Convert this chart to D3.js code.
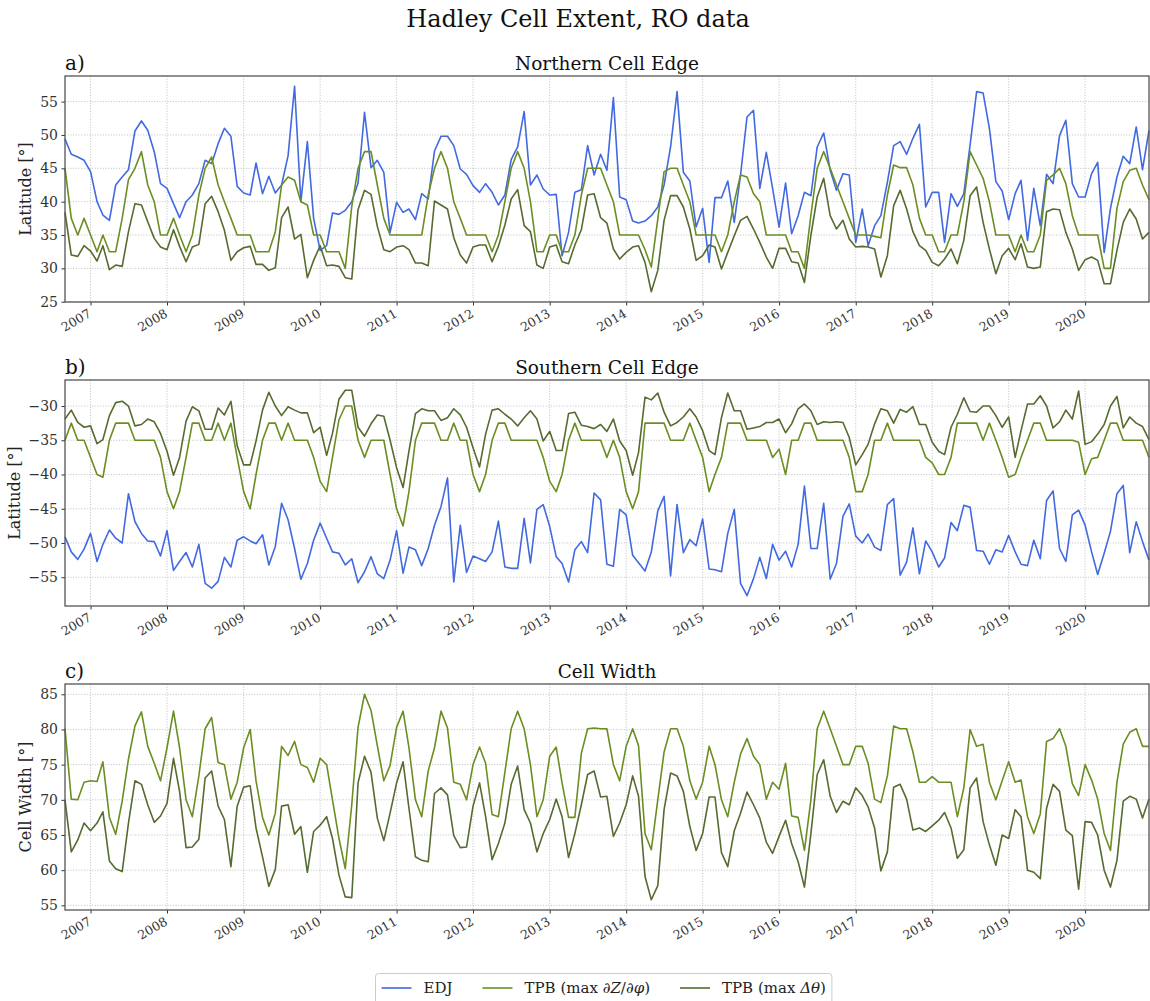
<!DOCTYPE html>
<html>
<head>
<meta charset="utf-8">
<script src="https://cdn.jsdelivr.net/npm/d3@7"></script>
<style>
  html, body { margin: 0; padding: 0; background: #fff; }
  svg { display: block; font-family: "DejaVu Serif", serif; }
</style>
</head>
<body>
<svg id="chart" width="1150" height="1001"></svg>
<script>
// Monthly series, Sep 2006 .. Nov 2020
const startMonth = new Date(2006, 8, 1);
const endMonth = new Date(2020, 10, 1);

// Northern cell edge [deg]
const edjNorth = [49.4,47.1,46.7,46.2,44.5,40.0,38.0,37.2,42.5,43.7,44.8,50.6,52.1,50.7,47.5,42.7,42.0,39.7,37.6,40.0,41.0,42.7,46.2,45.7,48.7,51.0,49.8,42.3,41.3,41.0,45.8,41.2,43.8,41.3,42.5,46.9,57.3,40.0,49.0,37.5,32.7,33.4,38.3,38.1,
  38.7,40.0,42.8,53.4,45.1,46.2,44.4,35.4,39.9,38.4,38.9,37.3,41.2,40.4,47.6,49.8,49.8,48.4,44.9,44.1,42.4,41.4,42.7,41.4,39.5,41.0,46.3,48.2,53.5,42.5,44.0,41.9,41.0,41.1,31.9,35.4,41.4,41.8,48.4,44.0,47.1,44.7,
  55.6,40.7,40.3,37.1,36.8,37.1,37.9,39.2,42.5,48.2,56.5,44.4,43.1,36.2,39.0,30.9,40.6,40.6,43.1,36.9,44.0,52.7,53.7,42.0,47.4,42.0,36.2,42.8,35.2,37.9,41.4,40.9,48.2,50.3,44.7,41.7,44.2,44.0,33.9,38.9,33.4,36.4,
  37.9,42.9,48.4,49.0,47.1,49.5,51.6,39.2,41.4,41.4,33.9,41.2,39.3,41.2,48.5,56.5,56.3,51.0,43.0,41.6,37.3,41.2,43.2,34.2,42.0,36.4,44.1,42.7,49.9,52.2,42.7,40.7,40.7,44.2,45.9,32.4,39.0,43.7,46.8,45.7,51.2,44.8,50.7];
const tpbZNorth = [45,37.5,35,37.5,35,32.5,35,32.5,32.5,37.5,43.3,45,47.5,42.5,40,35,35,37.5,35,32.5,35,41,45,46.7,42.5,40,37.5,35,35,35,32.5,32.5,32.5,35.5,42.5,43.7,43.2,40,39.5,35,35,32.5,32.5,32.5,
  30,39.3,45,47.5,47.5,42.5,37.5,35,35,35,35,35,35,41,45,47.5,45,40,37.5,35,35,35,35,32.5,35,40,45,47.5,45,40,32.5,32.5,35,35,32.5,32.5,35,41,45,45,45,42.5,
  40,35,35,35,35,32.8,30.2,37.4,44.5,45,45,42.5,40,35,35,35,35,32.5,35,40,44,43.7,41.2,40,35,35,35,35,32.5,32.5,30,38,45,47.5,45,42.5,40,37.5,35,35,35,34.8,
  34.6,41,45.5,45.1,45.1,42.5,37.5,35,35,32.5,32.5,35,35,40,47.5,45.5,43.5,40,35,35,35,32.5,35,32.5,32.5,35,43.2,44,45,42.7,37.9,35,35,35,35,30,30,39,43,44.7,45,42.5,40.3];
const tpbTNorth = [38.4,32,31.8,33.4,32.6,31.1,33.4,29.8,30.5,30.3,35.5,39.7,39.5,37,34.5,33.2,32.8,35.8,33.3,31,33.2,33.6,39.7,40.8,38.5,35.7,31.2,32.5,33.1,33.3,30.6,30.6,29.7,30.1,37.6,39.2,34.4,35.1,28.6,31.2,33.4,30.4,30.5,30.3,
  28.6,28.4,38.8,41.7,41.1,36.3,32.8,32.5,33.2,33.4,32.8,30.8,30.8,30.4,40.1,39.5,38.9,34.6,32,30.8,33.2,33.5,33.5,31,33.3,36.5,40.4,41.8,36.4,35.5,30.5,30,33.2,33.5,31,30.7,33.5,35.8,41,41.2,37.6,36.8,
  32.9,31.4,32.4,33.2,33.4,30.9,26.5,29.7,37.2,40.9,40.9,39.2,35.9,31.2,31.9,33.5,33.2,29.9,32.4,34.9,37.2,37.8,35.9,33.9,31.7,30,33,33,31,30.8,27.9,35,40.7,43.5,37.9,35.9,37.2,34.4,33.2,33.3,33.2,32.9,
  28.7,31.9,39.4,41.7,38.9,35.5,33.4,32.7,30.9,30.4,31.4,32.9,30.7,34.2,40.9,42.2,36.9,32.9,29.2,31.9,33,31.3,33.7,30.2,30,30.2,38.5,38.9,38.8,35.4,32.9,29.7,31.3,31.7,31.2,27.7,27.7,32.7,36.9,38.9,37.4,34.4,35.4];

// Southern cell edge [deg]
const edjSouth = [-49.1,-51.3,-52.4,-50.9,-48.6,-52.7,-50.2,-48.1,-49.3,-50.0,-42.8,-46.9,-48.6,-49.7,-49.8,-51.9,-48.2,-54.0,-52.7,-51.4,-53.5,-50.2,-55.9,-56.6,-55.6,-52.1,-53.5,-49.6,-49.1,-49.7,-50.1,-48.8,-53.2,-50.5,-44.2,-46.6,-50.8,-55.3,-53.0,-49.6,-47.1,-49.3,-51.3,-51.5,
  -53.2,-52.3,-55.8,-54.2,-52.0,-54.5,-55.2,-52.5,-48.2,-54.4,-50.6,-51.0,-53.3,-50.8,-47.4,-44.7,-40.5,-55.7,-47.4,-54.3,-51.9,-52.3,-52.7,-51.3,-46.8,-53.5,-53.7,-53.7,-46.4,-52.9,-45.1,-44.4,-47.6,-52.0,-53.0,-55.7,-51.0,-49.8,-51.4,-42.7,-43.7,-53.1,
  -53.4,-45.1,-45.9,-51.8,-52.9,-54.1,-51.3,-45.3,-43.2,-54.8,-44.4,-51.4,-49.5,-50.4,-46.5,-53.8,-53.9,-54.2,-48.6,-45.1,-55.9,-57.7,-55.2,-52.1,-55.2,-50.2,-52.5,-51.2,-53.5,-50.2,-41.7,-50.8,-50.8,-44.2,-55.3,-53.0,-46.1,-44.3,-49.0,-50.0,-48.7,-50.6,
  -51.1,-44.4,-43.5,-54.7,-52.8,-47.8,-54.5,-49.7,-51.3,-53.5,-52.2,-47.0,-48.2,-44.5,-44.8,-51.1,-51.2,-53.1,-51.0,-51.3,-48.9,-51.3,-53.1,-53.3,-49.6,-52.3,-43.8,-42.4,-50.8,-52.7,-45.9,-45.2,-47.4,-51.3,-54.6,-51.5,-48.3,-42.8,-41.6,-51.4,-46.9,-49.8,-52.5];
const tpbZSouth = [-35,-32.5,-35,-35,-37.5,-40,-40.4,-35,-32.5,-32.5,-32.5,-35,-35,-35,-35,-37.5,-42.5,-45,-42.5,-37.5,-32.5,-32.5,-35,-35,-32.5,-35,-32.5,-37.5,-42.5,-45,-40,-35,-32.5,-32.5,-35,-32.5,-35,-35,-35,-37.5,-41,-42.5,-37.5,-32,
  -30,-30,-35,-37.5,-35,-35,-35,-40,-45,-47.5,-42.5,-35,-32.5,-32.5,-32.5,-35,-35,-32.5,-35,-35,-40,-42.5,-40,-35,-32.5,-32.5,-35,-35,-35,-35,-35,-37.5,-41,-42.5,-40,-35,-32.5,-35,-35,-35,-35,-37.5,
  -35,-37.5,-42.5,-45,-42.5,-32.5,-32.5,-32.5,-32.5,-35,-35,-35,-32.5,-35,-37.5,-42.5,-40,-37.5,-32.5,-32.5,-32.5,-35,-35,-35,-35,-37.5,-36.3,-40,-35,-35,-32.5,-32.5,-35,-35,-35,-35,-35,-37.5,-42.5,-42.5,-40,-35,
  -35,-32.5,-35,-35,-35,-35,-35,-37.5,-38.3,-40,-40,-37.5,-32.5,-32.5,-32.5,-32.5,-35,-32.5,-35,-37.5,-40.4,-40,-37.5,-35,-32.5,-32.5,-35,-35,-35,-35,-35,-35.3,-40,-37.7,-37.5,-35,-32.5,-32.5,-35,-35,-35,-35,-37.5];
const tpbTSouth = [-31.9,-30.6,-32.4,-33.1,-32.9,-35.5,-34.9,-31.4,-29.5,-29.3,-30.0,-32.9,-32.7,-31.9,-32.3,-34.0,-36.6,-40.1,-37.5,-32.2,-30.1,-30.7,-33.4,-33.4,-30.3,-31.3,-29.3,-35.8,-38.6,-38.6,-35.1,-30.6,-28.0,-30.0,-31.4,-30.1,-30.6,-31.0,-31.0,-33.9,-33.1,-37.2,-34.0,-29.0,
  -27.7,-27.7,-33.1,-34.4,-32.6,-31.3,-31.5,-35.0,-39.0,-41.9,-36.6,-31.1,-30.4,-30.7,-30.7,-32.1,-31.7,-30.4,-31.3,-33.1,-36.1,-38.9,-34.1,-30.6,-30.4,-31.2,-31.9,-32.9,-31.7,-30.7,-31.9,-35.1,-33.7,-36.5,-36.5,-31.1,-30.9,-32.8,-33.0,-33.3,-32.7,-33.7,
  -31.9,-35.1,-36.5,-40.1,-36.8,-28.7,-29.1,-28.1,-30.9,-32.9,-32.4,-31.6,-30.4,-31.6,-33.6,-36.5,-37.1,-31.7,-28.1,-30.7,-30.7,-33.4,-33.2,-33.0,-32.4,-32.4,-31.9,-33.9,-32.6,-30.4,-29.7,-30.7,-32.7,-32.3,-32.4,-32.3,-32.4,-34.6,-38.6,-37.1,-35.6,-32.6,
  -30.4,-30.7,-32.5,-30.5,-30.9,-30.1,-32.7,-32.7,-35.3,-36.6,-37.1,-33.1,-31.2,-28.8,-30.8,-30.9,-30.0,-30.0,-31.4,-33.1,-31.6,-37.5,-33.6,-29.7,-29.7,-28.5,-30.0,-33.2,-32.3,-30.6,-31.9,-27.8,-35.6,-35.2,-34.1,-32.7,-30.0,-28.6,-33.2,-31.6,-32.5,-33.0,-34.9];

// Cell width [deg]
const widthZ = [80.1,70.1,70,72.5,72.7,72.6,75.4,67.5,65.1,69.8,75.8,80.5,82.5,77.6,75.2,72.7,77.4,82.6,77.4,70,67.6,73.4,80.1,81.7,75.3,75,70.1,72.5,77.4,80,72.7,67.5,65,68.1,77.6,76.3,78.3,75,74.6,72.5,75.9,75,70,64.5,
  60.2,69.3,80.3,85,82.7,77.7,72.7,74.9,80.3,82.6,77.4,70,67.6,74.1,77.4,82.6,80.2,72.5,72.2,70,75,77.5,75.2,67.9,67.6,73.9,80.1,82.6,80.1,75,67.6,70,76.2,77.5,72.4,67.5,67.5,76.6,80.1,80.2,80.1,80.1,
  75,72.7,77.6,80.1,77.7,65.2,62.9,70,76.8,80.1,80.1,77.6,72.7,70.1,72.5,77.6,75,70,67.6,72.5,76.5,78.7,76.2,75,70.1,72.5,71.5,75.2,67.7,67.5,62.8,70,80.1,82.6,80.1,77.6,75,75,77.6,77.6,75.2,70.1,
  69.6,73.4,80.5,80.1,80.1,76.8,72.5,72.5,73.3,72.5,72.5,72.5,67.6,71.7,80,77.6,77.9,72.5,70,72.7,75.4,72.5,72.8,67.6,65.2,68,78.3,78.7,80.1,77.6,72.3,70.6,75,72.8,70.1,65.2,62.8,72.5,77.9,79.6,80.1,77.6,77.6];
const widthT = [70,62.6,64.3,66.7,65.6,66.7,68.3,61.3,60.2,59.8,66.7,72.7,72.2,69.3,66.8,67.7,69.5,75.9,71.2,63.2,63.3,64.4,73.1,74.1,69.1,67.2,60.5,69.1,71.8,72.0,66.0,61.9,57.7,60.1,69.1,69.3,65.1,66.2,59.7,65.5,66.4,67.6,64.5,59.3,
  56.2,56.1,72.4,76.2,73.9,67.4,64.2,68.1,72.4,75.4,68.8,61.9,61.4,61.2,70.9,71.7,70.7,64.9,63.2,63.3,69.1,72.4,67.6,61.5,63.8,66.7,72.2,74.8,68.6,66.7,62.6,65.2,67.2,70.1,67.6,61.8,65.2,69.3,73.6,74.1,70.4,70.5,
  64.8,66.7,69.3,73.4,70.5,59.1,55.8,57.8,68.6,73.8,73.4,71.2,66.2,62.8,65.2,70.4,70.4,62.5,60.5,65.6,68.1,71.1,69.3,67.4,64,62.4,64.8,67.1,63.8,61.2,57.6,65.2,73.6,75.7,70.5,68.2,69.8,69.3,71.7,70.6,69,66,
  59.9,62.6,71.8,72.2,70.1,65.7,66,65.5,66.3,67.1,68.2,66,61.7,62.9,71.7,73.1,66.9,63.6,60.7,65,64.5,68.6,67.6,60,59.7,58.8,68.8,72.2,71.2,65.7,64.9,57.3,66.9,66.8,65,60,57.6,61.4,69.8,70.5,70.1,67.4,70.1];

const yTicksNorth = [25, 30, 35, 40, 45, 50, 55];
const yTicksSouth = [-55, -50, -45, -40, -35, -30];
const yTicksWidth = [55, 60, 65, 70, 75, 80, 85];
const yearTicks = d3.range(2007, 2021);

const seriesNames = ["EDJ", "TPB (max \u2202Z/\u2202\u03c6)", "TPB (max \u0394\u03b8)"];
const colors = { edj: "#4169e1", tpbZ: "#6b8e23", tpbT: "#556b2f" };

const months = d3.timeMonth.range(startMonth, d3.timeMonth.offset(endMonth, 1));

const svg = d3.select("#chart");
const plotLeft = 65, plotRight = 1149, panelHeight = 226;

const x = d3.scaleTime().domain([startMonth, endMonth]).range([plotLeft, plotRight]);

const panels = [
  { tag: "a)", title: "Northern Cell Edge", top: 76, ylabel: "Latitude [\u00b0]", ylabelX: 31, ticks: yTicksNorth,
    lines: [{ v: edjNorth, c: colors.edj }, { v: tpbZNorth, c: colors.tpbZ }, { v: tpbTNorth, c: colors.tpbT }] },
  { tag: "b)", title: "Southern Cell Edge", top: 380, ylabel: "Latitude [\u00b0]", ylabelX: 20, ticks: yTicksSouth,
    lines: [{ v: edjSouth, c: colors.edj }, { v: tpbZSouth, c: colors.tpbZ }, { v: tpbTSouth, c: colors.tpbT }] },
  { tag: "c)", title: "Cell Width", top: 684, ylabel: "Cell Width [\u00b0]", ylabelX: 31, ticks: yTicksWidth,
    lines: [{ v: widthZ, c: colors.tpbZ }, { v: widthT, c: colors.tpbT }] }
];

// Suptitle
svg.append("text")
  .attr("x", 578).attr("y", 27)
  .attr("text-anchor", "middle")
  .attr("font-size", 24)
  .attr("fill", "#111")
  .text("Hadley Cell Extent, RO data");

panels.forEach(p => {
  const bottom = p.top + panelHeight;
  // autoscale with 5% margins on y
  const all = p.lines.flatMap(l => l.v);
  const [lo, hi] = d3.extent(all);
  const pad = (hi - lo) * 0.05;
  const y = d3.scaleLinear().domain([lo - pad, hi + pad]).range([bottom, p.top]);

  const g = svg.append("g");

  // grid
  g.append("g").selectAll("line").data(yearTicks).join("line")
    .attr("x1", d => x(new Date(d, 0, 1))).attr("x2", d => x(new Date(d, 0, 1)))
    .attr("y1", p.top).attr("y2", bottom)
    .attr("stroke", "#b0b0b0").attr("stroke-width", 0.8).attr("stroke-dasharray", "1,1.7");
  g.append("g").selectAll("line").data(p.ticks).join("line")
    .attr("x1", plotLeft).attr("x2", plotRight)
    .attr("y1", d => y(d)).attr("y2", d => y(d))
    .attr("stroke", "#b0b0b0").attr("stroke-width", 0.8).attr("stroke-dasharray", "1,1.7");

  // series
  const line = d3.line().x((d, i) => x(months[i])).y(d => y(d));
  p.lines.forEach(l => {
    g.append("path").datum(l.v)
      .attr("d", line)
      .attr("fill", "none")
      .attr("stroke", l.c)
      .attr("stroke-width", 1.6)
      .attr("stroke-linejoin", "round");
  });

  // y axis
  const yAxis = d3.axisLeft(y).tickValues(p.ticks).tickSize(3.5).tickPadding(3.5);
  const ya = g.append("g").attr("transform", `translate(${plotLeft},0)`).call(yAxis);
  ya.select(".domain").remove();
  ya.selectAll("text").attr("font-size", 14).attr("font-family", "DejaVu Serif").attr("fill", "#333");
  ya.selectAll("line").attr("stroke", "#333");

  // x axis
  const xAxis = d3.axisBottom(x).tickValues(yearTicks.map(yr => new Date(yr, 0, 1)))
    .tickSize(3.5).tickFormat(d3.timeFormat("%Y"));
  const xa = g.append("g").attr("transform", `translate(0,${bottom})`).call(xAxis);
  xa.select(".domain").remove();
  xa.selectAll("line").attr("stroke", "#333");
  xa.selectAll("text")
    .attr("font-size", 12.5).attr("font-family", "DejaVu Serif").attr("fill", "#333")
    .attr("text-anchor", "end")
    .attr("dy", null).attr("y", 0)
    .attr("transform", "translate(1,14) rotate(-30)");

  // frame
  g.append("rect")
    .attr("x", plotLeft).attr("y", p.top)
    .attr("width", plotRight - plotLeft).attr("height", panelHeight)
    .attr("fill", "none").attr("stroke", "#555").attr("stroke-width", 1.3);

  // titles
  g.append("text").attr("x", plotLeft).attr("y", p.top - 6)
    .attr("font-size", 20).attr("fill", "#111").text(p.tag);
  g.append("text").attr("x", (plotLeft + plotRight) / 2).attr("y", p.top - 6)
    .attr("text-anchor", "middle").attr("font-size", 18.5).attr("fill", "#111").text(p.title);

  // y label
  g.append("text")
    .attr("transform", `translate(${p.ylabelX},${(p.top + bottom) / 2}) rotate(-90)`)
    .attr("text-anchor", "middle").attr("font-size", 16).attr("fill", "#222")
    .text(p.ylabel);
});

// legend: handles and labels laid out left to right, box fitted around them
const legend = svg.append("g");
const legendFont = 15, legendLeft = 375.5, legendY = 988;
const legendItems = [
  { c: colors.edj, parts: [["EDJ", false]] },
  { c: colors.tpbZ, parts: [["TPB (max ", false], ["\u2202Z", true], ["/", false], ["\u2202\u03c6", true], [")", false]] },
  { c: colors.tpbT, parts: [["TPB (max ", false], ["\u0394\u03b8", true], [")", false]] }
];
const box = legend.append("rect").attr("x", legendLeft).attr("y", 973.5).attr("height", 32)
  .attr("rx", 3).attr("fill", "#fff").attr("stroke", "#ccc");
let cursor = legendLeft + 0.4 * legendFont;
legendItems.forEach((it, k) => {
  legend.append("line")
    .attr("x1", cursor).attr("x2", cursor + 2 * legendFont).attr("y1", legendY).attr("y2", legendY)
    .attr("stroke", it.c).attr("stroke-width", 1.6);
  const t = legend.append("text").attr("x", cursor + 2.8 * legendFont).attr("y", legendY + 5)
    .attr("font-size", legendFont).attr("fill", "#222");
  t.append("title").text(seriesNames[k]);
  it.parts.forEach(([s, ital]) => {
    t.append("tspan").attr("font-style", ital ? "italic" : "normal").text(s);
  });
  const w = t.node().getComputedTextLength();
  cursor += 2.8 * legendFont + w + (k < legendItems.length - 1 ? 2 * legendFont : 0.4 * legendFont);
});
box.attr("width", cursor - legendLeft);
</script>
</body>
</html>
